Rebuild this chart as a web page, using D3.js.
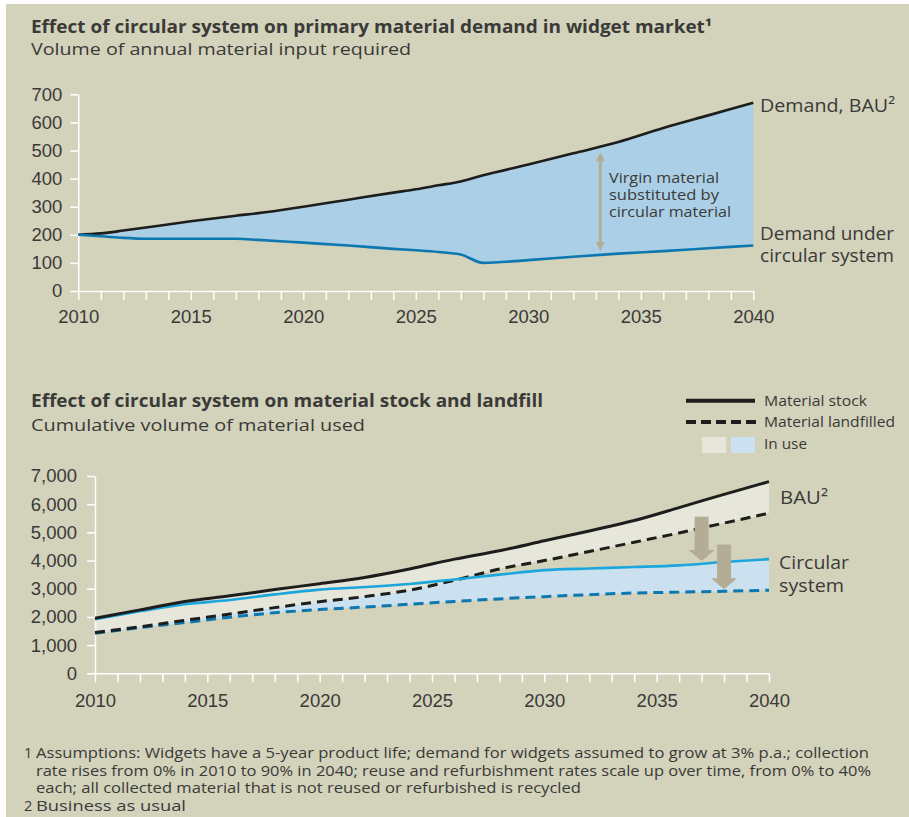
<!DOCTYPE html>
<html>
<head>
<meta charset="utf-8">
<script src="https://cdn.jsdelivr.net/npm/d3@7"></script>
<style>
  body { margin: 0; background: #fff; }
  text { font-family: "Open Sans", sans-serif; fill: #3a3a38; }
  .num text { font-family: "Liberation Sans", Arial, sans-serif; }
</style>
</head>
<body>
<div id="chart"></div>
<script>
// top chart: annual demand
var years1 = [2010, 2011, 2012, 2013, 2015, 2017, 2018, 2020, 2022, 2024, 2025, 2026, 2027, 2028, 2030, 2032, 2034, 2036, 2038, 2040]
var demandBAU = [200, 205, 215, 226, 248, 268, 277, 300, 325, 350, 362, 376, 390, 412, 450, 490, 530, 580, 625, 670]
var demandCircular = [200, 195, 189, 186, 186, 186, 182, 172, 162, 150, 145, 139, 130, 100, 110, 122, 133, 142, 152, 162]

// bottom chart: cumulative volumes
var years2 = [2010, 2012, 2014, 2016, 2018, 2020, 2022, 2024, 2026, 2028, 2030, 2032, 2034, 2036, 2038, 2040]
var stockBAU = [1950, 2250, 2550, 2750, 2970, 3180, 3400, 3700, 4050, 4350, 4700, 5050, 5420, 5880, 6350, 6800]
var landfillBAU = [1450, 1650, 1880, 2100, 2330, 2540, 2720, 2950, 3300, 3700, 4000, 4320, 4650, 4980, 5330, 5680]
var stockCircular = [1920, 2200, 2450, 2600, 2800, 2970, 3060, 3170, 3330, 3500, 3660, 3720, 3770, 3830, 3950, 4050]
var landfillCircular = [1420, 1620, 1800, 1990, 2150, 2260, 2350, 2450, 2550, 2640, 2720, 2790, 2850, 2880, 2910, 2950]

var ticks1 = [0, 100, 200, 300, 400, 500, 600, 700]
var ticks2 = [0, 1000, 2000, 3000, 4000, 5000, 6000, 7000]

var downArrows = [{year: 2037, from: 5550, to: 3980}, {year: 2038, from: 4570, to: 2980}]
var gapArrow = {year: 2033.2, from: 494, to: 142}

var footnotes = [
  ["1", "Assumptions: Widgets have a 5-year product life; demand for widgets assumed to grow at 3% p.a.; collection"],
  ["", "rate rises from 0% in 2010 to 90% in 2040; reuse and refurbishment rates scale up over time, from 0% to 40%"],
  ["", "each; all collected material that is not reused or refurbished is recycled"],
  ["2", "Business as usual"]
]
var footWidths = [833, 835, 545, 150]

var bg = "#d3d2bb", ink = "#1d1d1b", blue = "#0d77b0", cyan = "#1ba6dc", grey = "#b4ad96"

var svg = d3.select("#chart").append("svg")
  .attr("width", 909)
  .attr("height", 817)

svg.append("rect").attr("x", 6).attr("y", 4).attr("width", 903).attr("height", 813).attr("fill", bg)

// text squeezed/stretched to the width it has in the original
function label(x, y, size, str, w, bold) {
  var t = svg.append("text").attr("x", x).attr("y", y).style("font-size", size + "px").text(str)
  if (bold) t.style("font-weight", "bold").attr("fill", "#222")
  if (w) t.attr("textLength", w).attr("lengthAdjust", "spacingAndGlyphs")
  return t
}

function yearAxis(g, x, pad) {
  var all = d3.range(2010, 2041)
  g.call(d3.axisBottom(x).tickValues(all).tickSize(9).tickSizeOuter(0).tickPadding(pad)
      .tickFormat(function(d){ return d % 5 == 0 ? d : "" }))
  g.attr("class", "num")
  g.select(".domain").attr("stroke", "#fff").attr("stroke-width", 1.5)
  g.selectAll(".tick line").attr("stroke", "#fff").attr("stroke-width", 1.5)
  g.selectAll(".tick text").attr("fill", "#3a3a38").style("font-size", "18.5px")
}

function valueAxis(g, y, vals, fmt, pad) {
  g.call(d3.axisLeft(y).tickValues(vals).tickSize(8).tickSizeOuter(0).tickPadding(pad).tickFormat(fmt))
  g.attr("class", "num")
  g.select(".domain").attr("stroke", "#fff").attr("stroke-width", 1.5)
  g.selectAll(".tick line").attr("stroke", "#fff").attr("stroke-width", 1.5)
  g.selectAll(".tick text").attr("fill", "#3a3a38").style("font-size", "18.5px")
}

// ---------- top chart ----------
var x1 = d3.scaleLinear().domain([2010, 2040]).range([78.3, 753.3])
var y1 = d3.scaleLinear().domain([0, 700]).range([291, 94.3])

label(31, 33, 17.5, "Effect of circular system on primary material demand in widget market\u00b9", 681, true)
label(31, 55, 17, "Volume of annual material input required", 380)

var demand = years1.map(function(d, i){ return {year: d, bau: demandBAU[i], circ: demandCircular[i]} })

svg.append("path").datum(demand)
  .attr("fill", "#abcfe6")
  .attr("d", d3.area().curve(d3.curveMonotoneX)
    .x(function(d){ return x1(d.year) })
    .y0(function(d){ return y1(d.circ) })
    .y1(function(d){ return y1(d.bau) }))

yearAxis(svg.append("g").attr("transform", "translate(0," + y1(0) + ")"), x1, 10)
valueAxis(svg.append("g").attr("transform", "translate(" + x1(2010) + ",0)"), y1, ticks1, d3.format("d"), 8)

svg.append("path").datum(demand)
  .attr("fill", "none").attr("stroke", ink).attr("stroke-width", 2.6)
  .attr("d", d3.line().curve(d3.curveMonotoneX).x(function(d){ return x1(d.year) }).y(function(d){ return y1(d.bau) }))
svg.append("path").datum(demand)
  .attr("fill", "none").attr("stroke", blue).attr("stroke-width", 2.6)
  .attr("d", d3.line().curve(d3.curveMonotoneX).x(function(d){ return x1(d.year) }).y(function(d){ return y1(d.circ) }))

// double headed arrow for the gap
var ax = x1(gapArrow.year), aTop = y1(gapArrow.from), aBot = y1(gapArrow.to)
svg.append("line").attr("x1", ax).attr("x2", ax).attr("y1", aTop + 6).attr("y2", aBot - 6)
  .attr("stroke", grey).attr("stroke-width", 3)
svg.append("path").attr("fill", grey)
  .attr("d", "M" + ax + "," + aTop + "l-4.5,9h9z M" + ax + "," + aBot + "l-4.5,-9h9z")

label(609, 183, 14.5, "Virgin material", 110)
label(609, 200, 14.5, "substituted by", 110)
label(609, 217, 14.5, "circular material", 122)

label(760, 112, 18, "Demand, BAU\u00b2", 135)
label(760, 240, 18, "Demand under", 134)
label(760, 262, 18, "circular system", 134)

// ---------- bottom chart ----------
var x2 = d3.scaleLinear().domain([2010, 2040]).range([95, 769])
var y2 = d3.scaleLinear().domain([0, 7000]).range([673.3, 476])

label(31, 407, 17.5, "Effect of circular system on material stock and landfill", 512, true)
label(31, 431, 17, "Cumulative volume of material used", 334)

var stock = years2.map(function(d, i){
  return {year: d, sb: stockBAU[i], lb: landfillBAU[i], sc: stockCircular[i], lc: landfillCircular[i]}
})

function band(hi, lo) {
  return d3.area().curve(d3.curveMonotoneX)
    .x(function(d){ return x2(d.year) })
    .y0(function(d){ return y2(d[lo]) })
    .y1(function(d){ return y2(d[hi]) })
}
function curve(key) {
  return d3.line().curve(d3.curveMonotoneX).x(function(d){ return x2(d.year) }).y(function(d){ return y2(d[key]) })
}

svg.append("path").datum(stock).attr("fill", "#cbe1ef").attr("d", band("sc", "lc"))
svg.append("path").datum(stock).attr("fill", "#e7e6da").attr("d", band("sb", "lb"))

yearAxis(svg.append("g").attr("transform", "translate(0," + y2(0) + ")"), x2, 12)
valueAxis(svg.append("g").attr("transform", "translate(" + x2(2010) + ",0)"), y2, ticks2, d3.format(","), 10)

svg.append("path").datum(stock).attr("fill", "none").attr("stroke", blue).attr("stroke-width", 3)
  .attr("stroke-dasharray", "10,6").attr("d", curve("lc"))
svg.append("path").datum(stock).attr("fill", "none").attr("stroke", ink).attr("stroke-width", 3)
  .attr("stroke-dasharray", "10,6").attr("d", curve("lb"))
svg.append("path").datum(stock).attr("fill", "none").attr("stroke", cyan).attr("stroke-width", 2.6)
  .attr("d", curve("sc"))
svg.append("path").datum(stock).attr("fill", "none").attr("stroke", ink).attr("stroke-width", 3)
  .attr("d", curve("sb"))

svg.selectAll(".down").data(downArrows).enter().append("path")
  .attr("class", "down").attr("fill", grey)
  .attr("d", function(d){
    var cx = x2(d.year), t = y2(d.from), b = y2(d.to), h = b - 11
    return "M" + (cx - 7) + "," + t + "H" + (cx + 7) + "V" + h + "H" + (cx + 13) +
      "L" + cx + "," + b + "L" + (cx - 13) + "," + h + "H" + (cx - 7) + "Z"
  })

label(780, 504, 19, "BAU\u00b2", 48)
label(779, 569, 18.5, "Circular", 70)
label(779, 592, 18.5, "system", 65)

// legend
svg.append("line").attr("x1", 686).attr("x2", 755).attr("y1", 400.7).attr("y2", 400.7)
  .attr("stroke", ink).attr("stroke-width", 4)
svg.append("line").attr("x1", 686).attr("x2", 756).attr("y1", 422).attr("y2", 422)
  .attr("stroke", ink).attr("stroke-width", 4).attr("stroke-dasharray", "10,5")
svg.append("rect").attr("x", 702).attr("y", 437).attr("width", 24).attr("height", 16).attr("fill", "#e7e6da")
svg.append("rect").attr("x", 731).attr("y", 437).attr("width", 24).attr("height", 16).attr("fill", "#cbe1ef")
label(764, 405.5, 14.5, "Material stock", 103)
label(764, 427, 14.5, "Material landfilled", 131)
label(764, 449, 14.5, "In use", 43)

// footnotes
footnotes.forEach(function(f, i){
  var yy = 758 + i * 17.5
  label(24, yy, 14.5, f[0])
  label(36, yy, 14.5, f[1], footWidths[i])
})
</script>
</body>
</html>
